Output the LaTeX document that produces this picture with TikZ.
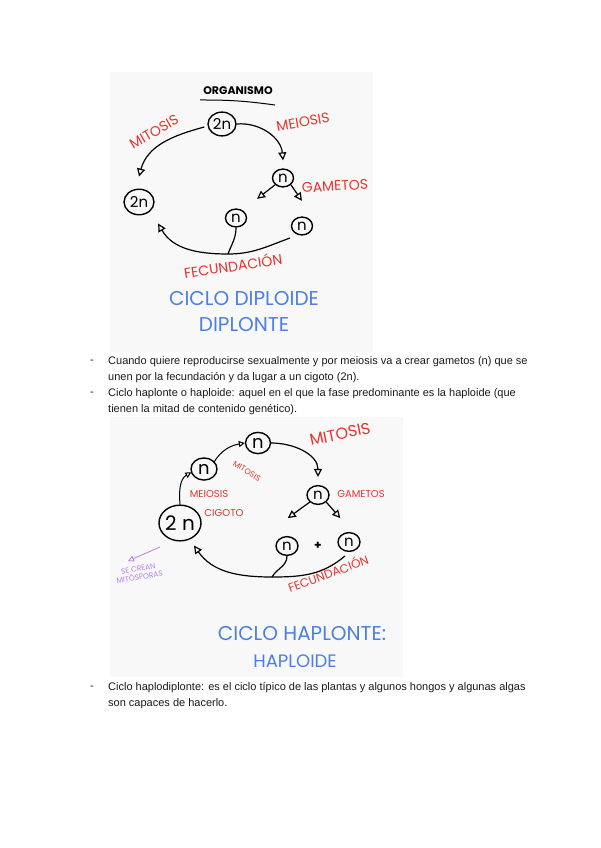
\documentclass[tikz,border=0pt]{standalone}
\usepackage{fontspec}
\setmainfont{Liberation Sans}
\newfontfamily\hand{Poppins}
\usetikzlibrary{arrows.meta,shapes.geometric}
\definecolor{hred}{HTML}{E8332C}
\definecolor{hblue}{HTML}{4A80E3}
\definecolor{hpurp}{HTML}{B77FEA}
\definecolor{panel}{HTML}{F8F8F8}
\definecolor{body}{HTML}{1A1A1A}
\tikzset{
  panelbox/.style={fill=panel,draw=none},
  nd/.style={draw,ellipse,line width=1.4pt,inner sep=0pt,minimum width=#1,minimum height=#1*0.85,font=\hand\fontsize{15}{15}\selectfont},
  nd/.default=22pt,
  arr/.style={line width=1.2pt,-{Triangle[open,length=8pt,width=8pt]}},
  plain/.style={line width=1.2pt},
  redlab/.style={text=hred,font=\hand\fontsize{14}{14}\selectfont},
  smallred/.style={text=hred,font=\hand\fontsize{10}{10}\selectfont},
  bluelab/.style={text=hblue,font=\hand\fontsize{20}{20}\selectfont},
  txt/.style={anchor=west,inner sep=0pt,text=body,font=\fontsize{11}{13}\selectfont},
}
\begin{document}
\begin{tikzpicture}[x=1pt,y=-1pt]
\useasboundingbox (0,0) rectangle (600,848);
\fill[white] (0,0) rectangle (600,848);
% ---------- panel 1 ----------
\fill[panelbox] (110,72) rectangle (373,352);
\node[font=\hand\bfseries\fontsize{11}{11}\selectfont] (org) at (238,91) {ORGANISMO};
\draw[line width=1pt] (200,100) to[bend left=4] (275,105);
\node[nd=28pt] (top) at (222,124) {2n};
\node[nd=30pt] (l2n) at (139,202) {2n};
\node[nd=21pt] (g) at (283,178) {n};
\node[nd=21pt] (ga) at (236,218) {n};
\node[nd=21pt] (gb) at (302,226) {n};
\node[redlab,rotate=30] (mit) at (154,132) {MITOSIS};
\node[redlab,rotate=10] (mei) at (303,122) {MEIOSIS};
\node[redlab,rotate=3] (gam) at (335,186) {GAMETOS};
\draw[arr] ([xshift=-3pt,yshift=-3pt]top.west) to[out=195,in=75] ([yshift=12pt]l2n.north);
\draw[arr] (top.east) to[out=5,in=95] ([yshift=8pt]g.north);
\draw[arr] (g.south west) -- ++(-18,14);
\draw[arr] (g.south east) -- ++(11,16);
\coordinate (f1) at (228,254);
\draw[plain] (290,238) to[out=200,in=0] (f1);
\draw[arr] (f1) to[out=180,in=-60] ([xshift=8pt,yshift=-12pt]l2n.south east);
\draw[plain] (ga.south) to[out=-90,in=70] (f1);
\node[redlab,rotate=8] (fec) at (233,265) {FECUNDACIÓN};
\node[bluelab] (c1) at (244,299) {CICLO DIPLOIDE};
\node[bluelab] (c2) at (244,325) {DIPLONTE};
% ---------- text ----------
\node[txt] (d1) at (90,362) {-};
\node[txt] (t1) at (108,362) {Cuando quiere reproducirse sexualmente y por meiosis va a crear gametos (n) que se};
\node[txt] (t1b) at (108,378) {unen por la fecundación y da lugar a un cigoto (2n).};
\node[txt] (d2) at (90,394) {-};
\node[txt] (t2) at (108,394) {Ciclo haplonte o haploide: aquel en el que la fase predominante es la haploide (que};
\node[txt] (t2b) at (108,410) {tienen la mitad de contenido genético).};
% ---------- panel 2 ----------
\fill[panelbox] (110,417) rectangle (403,677);
\node[nd=25pt,font=\hand\fontsize{18}{18}\selectfont] (hn) at (258,443) {n};
\node[nd=26pt,font=\hand\fontsize{18}{18}\selectfont] (sn) at (204,469) {n};
\node[nd=42pt,font=\hand\fontsize{20}{20}\selectfont] (z) at (180,523) {2 n};
\node[nd=22pt] (h) at (318,495) {n};
\node[nd=22pt] (ha) at (287,546) {n};
\node[nd=22pt] (hb) at (349,542) {n};
\node[font=\hand\bfseries\large] (plus) at (318,546) {+};
\node[redlab,rotate=12,font=\hand\fontsize{16}{16}\selectfont] (mit2) at (340,434) {MITOSIS};
\node[smallred,rotate=-32,font=\hand\fontsize{8}{8}\selectfont] (mit3) at (247,471) {MITOSIS};
\node[smallred] (mei2) at (209,494) {MEIOSIS};
\node[smallred] (cig) at (224,513) {CIGOTO};
\node[smallred] (gam2) at (361,494) {GAMETOS};
\draw[line width=1pt,-{Triangle[open,length=6pt,width=6pt]}] (z.north) to[out=95,in=-150] ([xshift=-3pt,yshift=5pt]sn.south west);
\draw[line width=1pt,-{Triangle[open,length=6pt,width=6pt]}] ([yshift=-2pt]sn.north east) to[out=60,in=190] (hn.west);
\draw[arr] (hn.east) to[out=0,in=90] ([yshift=8pt]h.north);
\draw[arr] (h.south west) -- ++(-22,16);
\draw[arr] (h.south east) -- ++(14,16);
\coordinate (f2) at (272,577);
\draw[plain] (345,556) to[out=220,in=0] (f2);
\draw[arr] (f2) to[out=180,in=-55] ([xshift=14pt,yshift=-4pt]z.south);
\draw[plain] (ha.south) to[out=-90,in=60] (f2);
\node[redlab,rotate=20,font=\hand\fontsize{12}{12}\selectfont] (fec2) at (328,573) {FECUNDACIÓN};
\coordinate (p0) at (160,547);
\draw[hpurp,line width=0.8pt,-{Triangle[open,length=6pt,width=6pt]}] (p0) -- (128,561);
\node[text=hpurp,font=\hand\fontsize{7.5}{8.5}\selectfont,rotate=10,align=center,inner sep=0pt] (sp) at (139,573) {SE CREAN\\MITÓSPORAS};
\node[bluelab] (c3) at (302,634) {CICLO HAPLONTE:};
\node[bluelab,font=\hand\fontsize{18}{18}\selectfont] (c4) at (295,661) {HAPLOIDE};
% ---------- text ----------
\node[txt] (d3) at (90,688) {-};
\node[txt] (t3) at (108,688) {Ciclo haplodiplonte: es el ciclo típico de las plantas y algunos hongos y algunas algas};
\node[txt] (t3b) at (108,704) {son capaces de hacerlo.};
\end{tikzpicture}
\end{document}
